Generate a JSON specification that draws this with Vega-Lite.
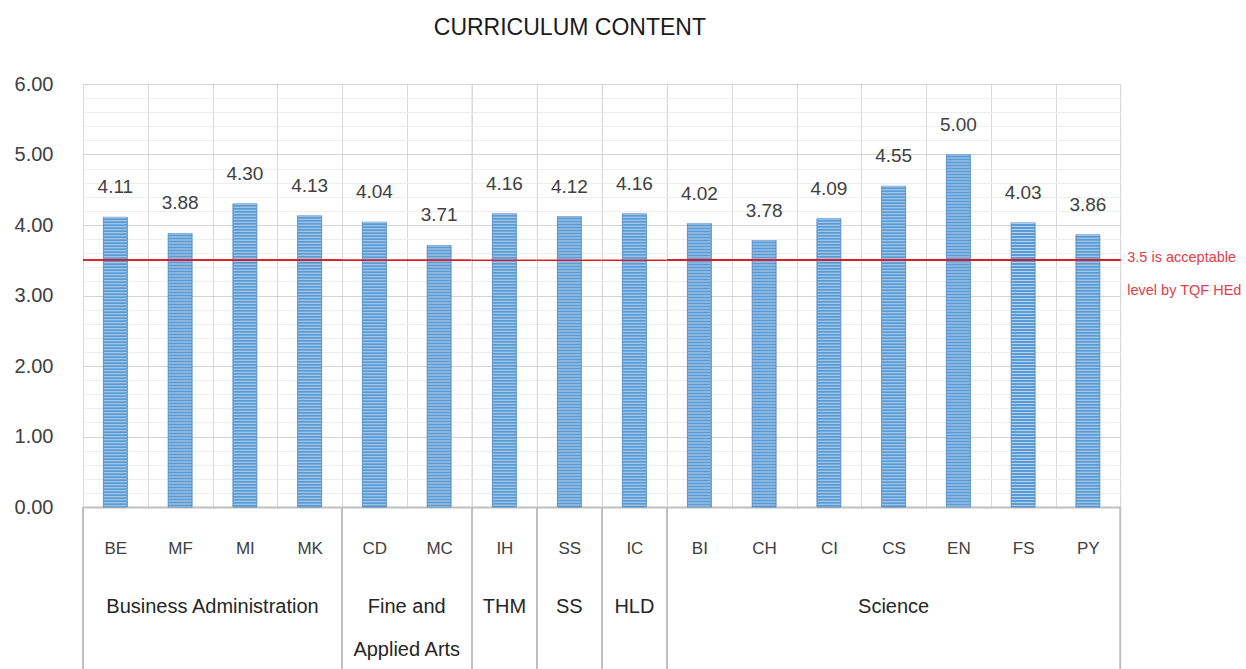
{
  "$schema": "https://vega.github.io/schema/vega-lite/v6.json",
  "padding": {"left": 13, "top": 16, "right": 5, "bottom": 0},
  "background": "white",
  "title": {"text": "CURRICULUM CONTENT", "fontSize": 23, "fontWeight": "normal", "font": "Liberation Sans", "color": "#1a1a1a", "anchor": "middle", "dx": -58, "offset": 34},
  "data": {"values": [
    {"group": "Business Administration", "code": "BE", "value": 4.11},
    {"group": "Business Administration", "code": "MF", "value": 3.88},
    {"group": "Business Administration", "code": "MI", "value": 4.30},
    {"group": "Business Administration", "code": "MK", "value": 4.13},
    {"group": "Fine and\nApplied Arts", "code": "CD", "value": 4.04},
    {"group": "Fine and\nApplied Arts", "code": "MC", "value": 3.71},
    {"group": "THM", "code": "IH", "value": 4.16},
    {"group": "SS", "code": "SS", "value": 4.12},
    {"group": "HLD", "code": "IC", "value": 4.16},
    {"group": "Science", "code": "BI", "value": 4.02},
    {"group": "Science", "code": "CH", "value": 3.78},
    {"group": "Science", "code": "CI", "value": 4.09},
    {"group": "Science", "code": "CS", "value": 4.55},
    {"group": "Science", "code": "EN", "value": 5.00},
    {"group": "Science", "code": "FS", "value": 4.03},
    {"group": "Science", "code": "PY", "value": 3.86}
  ]},
  "spacing": 0,
  "bounds": "flush",
  "hconcat": [
    {
      "width": 259, "height": 423,
      "transform": [{"filter": "datum.group === 'Business Administration'"}],
      "layer": [
        {"mark": {"type": "bar", "width": {"band": 0.37}, "color": "#5b9bd5", "stroke": "#4a86c4", "strokeWidth": 0.8},
         "encoding": {
           "x": {"field": "code", "type": "nominal", "sort": null, "scale": {"paddingInner": 0, "paddingOuter": 0},
             "axis": {"title": null, "labelAngle": 0, "ticks": false, "labelPadding": 33.5, "grid": true, "tickBand": "extent", "gridColor": "#d9d9d9", "domainColor": "#bfbfbf", "domainWidth": 2, "labelFontSize": 17}},
           "y": {"field": "value", "type": "quantitative", "scale": {"domain": [0, 6], "nice": false},
             "axis": {"title": null, "tickCount": 31, "values": [0, 0.2, 0.4, 0.6, 0.8, 1, 1.2, 1.4, 1.6, 1.8, 2, 2.2, 2.4, 2.6, 2.8, 3, 3.2, 3.4, 3.6, 3.8, 4, 4.2, 4.4, 4.6, 4.8, 5, 5.2, 5.4, 5.6, 5.8, 6],
               "labelExpr": "datum.value % 1 === 0 ? format(datum.value, '.2f') : ''", "labelOverlap": false, "domain": false, "ticks": false, "labelPadding": 30, "labelFontSize": 20,
               "gridColor": {"condition": {"test": "datum.value % 1 === 0", "value": "#d4d4d4"}, "value": "#eeeeee"}}}}},
        {"mark": {"type": "rule", "color": "white", "strokeWidth": 23, "strokeDash": [1, 2], "opacity": 0.55},
         "encoding": {"x": {"field": "code", "type": "nominal", "sort": null}, "y": {"field": "value", "type": "quantitative"}, "y2": {"datum": 0}}},
        {"mark": {"type": "text", "dy": -30, "baseline": "middle", "fontSize": 19, "color": "#404040"},
         "encoding": {"x": {"field": "code", "type": "nominal", "sort": null}, "y": {"field": "value", "type": "quantitative"}, "text": {"field": "value", "type": "quantitative", "format": ".2f"}}},
        {"mark": {"type": "rule", "color": "#d81e2c", "strokeWidth": 1.5}, "encoding": {"y": {"datum": 3.5}}},
        {"transform": [{"window": [{"op": "row_number", "as": "r"}]}, {"filter": "datum.r === 1"}],
         "mark": {"type": "rule", "color": "#bfbfbf", "strokeWidth": 2},
         "encoding": {"x": {"field": "code", "type": "nominal", "sort": null, "bandPosition": 0}, "y": {"datum": 0}, "y2": {"datum": -2.4}}},
        {"transform": [{"aggregate": [{"op": "count", "as": "n"}], "groupby": ["group"]}],
         "mark": {"type": "text", "baseline": "top", "lineBreak": "\n", "lineHeight": 43, "fontSize": 20, "color": "#262626"},
         "encoding": {"y": {"datum": -1.277}, "text": {"field": "group", "type": "nominal"}}}
      ]
    },
    {
      "width": 129.5, "height": 423,
      "transform": [{"filter": "datum.group === 'Fine and\\nApplied Arts'"}],
      "layer": [
        {"mark": {"type": "bar", "width": {"band": 0.37}, "color": "#5b9bd5", "stroke": "#4a86c4", "strokeWidth": 0.8},
         "encoding": {
           "x": {"field": "code", "type": "nominal", "sort": null, "scale": {"paddingInner": 0, "paddingOuter": 0},
             "axis": {"title": null, "labelAngle": 0, "ticks": false, "labelPadding": 33.5, "grid": true, "tickBand": "extent", "gridColor": "#d9d9d9", "domainColor": "#bfbfbf", "domainWidth": 2, "labelFontSize": 17}},
           "y": {"field": "value", "type": "quantitative", "scale": {"domain": [0, 6], "nice": false},
             "axis": {"title": null, "tickCount": 31, "values": [0, 0.2, 0.4, 0.6, 0.8, 1, 1.2, 1.4, 1.6, 1.8, 2, 2.2, 2.4, 2.6, 2.8, 3, 3.2, 3.4, 3.6, 3.8, 4, 4.2, 4.4, 4.6, 4.8, 5, 5.2, 5.4, 5.6, 5.8, 6],
               "labels": false, "domain": false, "ticks": false,
               "gridColor": {"condition": {"test": "datum.value % 1 === 0", "value": "#d4d4d4"}, "value": "#eeeeee"}}}}},
        {"mark": {"type": "rule", "color": "white", "strokeWidth": 23, "strokeDash": [1, 2], "opacity": 0.55},
         "encoding": {"x": {"field": "code", "type": "nominal", "sort": null}, "y": {"field": "value", "type": "quantitative"}, "y2": {"datum": 0}}},
        {"mark": {"type": "text", "dy": -30, "baseline": "middle", "fontSize": 19, "color": "#404040"},
         "encoding": {"x": {"field": "code", "type": "nominal", "sort": null}, "y": {"field": "value", "type": "quantitative"}, "text": {"field": "value", "type": "quantitative", "format": ".2f"}}},
        {"mark": {"type": "rule", "color": "#d81e2c", "strokeWidth": 1.5}, "encoding": {"y": {"datum": 3.5}}},
        {"transform": [{"window": [{"op": "row_number", "as": "r"}]}, {"filter": "datum.r === 1"}],
         "mark": {"type": "rule", "color": "#bfbfbf", "strokeWidth": 2},
         "encoding": {"x": {"field": "code", "type": "nominal", "sort": null, "bandPosition": 0}, "y": {"datum": 0}, "y2": {"datum": -2.4}}},
        {"transform": [{"aggregate": [{"op": "count", "as": "n"}], "groupby": ["group"]}],
         "mark": {"type": "text", "baseline": "top", "lineBreak": "\n", "lineHeight": 43, "fontSize": 20, "color": "#262626"},
         "encoding": {"y": {"datum": -1.277}, "text": {"field": "group", "type": "nominal"}}}
      ]
    },
    {
      "width": 64.75, "height": 423,
      "transform": [{"filter": "datum.group === 'THM'"}],
      "layer": [
        {"mark": {"type": "bar", "width": {"band": 0.37}, "color": "#5b9bd5", "stroke": "#4a86c4", "strokeWidth": 0.8},
         "encoding": {
           "x": {"field": "code", "type": "nominal", "sort": null, "scale": {"paddingInner": 0, "paddingOuter": 0},
             "axis": {"title": null, "labelAngle": 0, "ticks": false, "labelPadding": 33.5, "grid": true, "tickBand": "extent", "gridColor": "#d9d9d9", "domainColor": "#bfbfbf", "domainWidth": 2, "labelFontSize": 17}},
           "y": {"field": "value", "type": "quantitative", "scale": {"domain": [0, 6], "nice": false},
             "axis": {"title": null, "tickCount": 31, "values": [0, 0.2, 0.4, 0.6, 0.8, 1, 1.2, 1.4, 1.6, 1.8, 2, 2.2, 2.4, 2.6, 2.8, 3, 3.2, 3.4, 3.6, 3.8, 4, 4.2, 4.4, 4.6, 4.8, 5, 5.2, 5.4, 5.6, 5.8, 6],
               "labels": false, "domain": false, "ticks": false,
               "gridColor": {"condition": {"test": "datum.value % 1 === 0", "value": "#d4d4d4"}, "value": "#eeeeee"}}}}},
        {"mark": {"type": "rule", "color": "white", "strokeWidth": 23, "strokeDash": [1, 2], "opacity": 0.55},
         "encoding": {"x": {"field": "code", "type": "nominal", "sort": null}, "y": {"field": "value", "type": "quantitative"}, "y2": {"datum": 0}}},
        {"mark": {"type": "text", "dy": -30, "baseline": "middle", "fontSize": 19, "color": "#404040"},
         "encoding": {"x": {"field": "code", "type": "nominal", "sort": null}, "y": {"field": "value", "type": "quantitative"}, "text": {"field": "value", "type": "quantitative", "format": ".2f"}}},
        {"mark": {"type": "rule", "color": "#d81e2c", "strokeWidth": 1.5}, "encoding": {"y": {"datum": 3.5}}},
        {"transform": [{"window": [{"op": "row_number", "as": "r"}]}, {"filter": "datum.r === 1"}],
         "mark": {"type": "rule", "color": "#bfbfbf", "strokeWidth": 2},
         "encoding": {"x": {"field": "code", "type": "nominal", "sort": null, "bandPosition": 0}, "y": {"datum": 0}, "y2": {"datum": -2.4}}},
        {"transform": [{"aggregate": [{"op": "count", "as": "n"}], "groupby": ["group"]}],
         "mark": {"type": "text", "baseline": "top", "lineBreak": "\n", "lineHeight": 43, "fontSize": 20, "color": "#262626"},
         "encoding": {"y": {"datum": -1.277}, "text": {"field": "group", "type": "nominal"}}}
      ]
    },
    {
      "width": 64.75, "height": 423,
      "transform": [{"filter": "datum.group === 'SS'"}],
      "layer": [
        {"mark": {"type": "bar", "width": {"band": 0.37}, "color": "#5b9bd5", "stroke": "#4a86c4", "strokeWidth": 0.8},
         "encoding": {
           "x": {"field": "code", "type": "nominal", "sort": null, "scale": {"paddingInner": 0, "paddingOuter": 0},
             "axis": {"title": null, "labelAngle": 0, "ticks": false, "labelPadding": 33.5, "grid": true, "tickBand": "extent", "gridColor": "#d9d9d9", "domainColor": "#bfbfbf", "domainWidth": 2, "labelFontSize": 17}},
           "y": {"field": "value", "type": "quantitative", "scale": {"domain": [0, 6], "nice": false},
             "axis": {"title": null, "tickCount": 31, "values": [0, 0.2, 0.4, 0.6, 0.8, 1, 1.2, 1.4, 1.6, 1.8, 2, 2.2, 2.4, 2.6, 2.8, 3, 3.2, 3.4, 3.6, 3.8, 4, 4.2, 4.4, 4.6, 4.8, 5, 5.2, 5.4, 5.6, 5.8, 6],
               "labels": false, "domain": false, "ticks": false,
               "gridColor": {"condition": {"test": "datum.value % 1 === 0", "value": "#d4d4d4"}, "value": "#eeeeee"}}}}},
        {"mark": {"type": "rule", "color": "white", "strokeWidth": 23, "strokeDash": [1, 2], "opacity": 0.55},
         "encoding": {"x": {"field": "code", "type": "nominal", "sort": null}, "y": {"field": "value", "type": "quantitative"}, "y2": {"datum": 0}}},
        {"mark": {"type": "text", "dy": -30, "baseline": "middle", "fontSize": 19, "color": "#404040"},
         "encoding": {"x": {"field": "code", "type": "nominal", "sort": null}, "y": {"field": "value", "type": "quantitative"}, "text": {"field": "value", "type": "quantitative", "format": ".2f"}}},
        {"mark": {"type": "rule", "color": "#d81e2c", "strokeWidth": 1.5}, "encoding": {"y": {"datum": 3.5}}},
        {"transform": [{"window": [{"op": "row_number", "as": "r"}]}, {"filter": "datum.r === 1"}],
         "mark": {"type": "rule", "color": "#bfbfbf", "strokeWidth": 2},
         "encoding": {"x": {"field": "code", "type": "nominal", "sort": null, "bandPosition": 0}, "y": {"datum": 0}, "y2": {"datum": -2.4}}},
        {"transform": [{"aggregate": [{"op": "count", "as": "n"}], "groupby": ["group"]}],
         "mark": {"type": "text", "baseline": "top", "lineBreak": "\n", "lineHeight": 43, "fontSize": 20, "color": "#262626"},
         "encoding": {"y": {"datum": -1.277}, "text": {"field": "group", "type": "nominal"}}}
      ]
    },
    {
      "width": 64.75, "height": 423,
      "transform": [{"filter": "datum.group === 'HLD'"}],
      "layer": [
        {"mark": {"type": "bar", "width": {"band": 0.37}, "color": "#5b9bd5", "stroke": "#4a86c4", "strokeWidth": 0.8},
         "encoding": {
           "x": {"field": "code", "type": "nominal", "sort": null, "scale": {"paddingInner": 0, "paddingOuter": 0},
             "axis": {"title": null, "labelAngle": 0, "ticks": false, "labelPadding": 33.5, "grid": true, "tickBand": "extent", "gridColor": "#d9d9d9", "domainColor": "#bfbfbf", "domainWidth": 2, "labelFontSize": 17}},
           "y": {"field": "value", "type": "quantitative", "scale": {"domain": [0, 6], "nice": false},
             "axis": {"title": null, "tickCount": 31, "values": [0, 0.2, 0.4, 0.6, 0.8, 1, 1.2, 1.4, 1.6, 1.8, 2, 2.2, 2.4, 2.6, 2.8, 3, 3.2, 3.4, 3.6, 3.8, 4, 4.2, 4.4, 4.6, 4.8, 5, 5.2, 5.4, 5.6, 5.8, 6],
               "labels": false, "domain": false, "ticks": false,
               "gridColor": {"condition": {"test": "datum.value % 1 === 0", "value": "#d4d4d4"}, "value": "#eeeeee"}}}}},
        {"mark": {"type": "rule", "color": "white", "strokeWidth": 23, "strokeDash": [1, 2], "opacity": 0.55},
         "encoding": {"x": {"field": "code", "type": "nominal", "sort": null}, "y": {"field": "value", "type": "quantitative"}, "y2": {"datum": 0}}},
        {"mark": {"type": "text", "dy": -30, "baseline": "middle", "fontSize": 19, "color": "#404040"},
         "encoding": {"x": {"field": "code", "type": "nominal", "sort": null}, "y": {"field": "value", "type": "quantitative"}, "text": {"field": "value", "type": "quantitative", "format": ".2f"}}},
        {"mark": {"type": "rule", "color": "#d81e2c", "strokeWidth": 1.5}, "encoding": {"y": {"datum": 3.5}}},
        {"transform": [{"window": [{"op": "row_number", "as": "r"}]}, {"filter": "datum.r === 1"}],
         "mark": {"type": "rule", "color": "#bfbfbf", "strokeWidth": 2},
         "encoding": {"x": {"field": "code", "type": "nominal", "sort": null, "bandPosition": 0}, "y": {"datum": 0}, "y2": {"datum": -2.4}}},
        {"transform": [{"aggregate": [{"op": "count", "as": "n"}], "groupby": ["group"]}],
         "mark": {"type": "text", "baseline": "top", "lineBreak": "\n", "lineHeight": 43, "fontSize": 20, "color": "#262626"},
         "encoding": {"y": {"datum": -1.277}, "text": {"field": "group", "type": "nominal"}}}
      ]
    },
    {
      "width": 453.25, "height": 423,
      "transform": [{"filter": "datum.group === 'Science'"}],
      "layer": [
        {"mark": {"type": "bar", "width": {"band": 0.37}, "color": "#5b9bd5", "stroke": "#4a86c4", "strokeWidth": 0.8},
         "encoding": {
           "x": {"field": "code", "type": "nominal", "sort": null, "scale": {"paddingInner": 0, "paddingOuter": 0},
             "axis": {"title": null, "labelAngle": 0, "ticks": false, "labelPadding": 33.5, "grid": true, "tickBand": "extent", "gridColor": "#d9d9d9", "domainColor": "#bfbfbf", "domainWidth": 2, "labelFontSize": 17}},
           "y": {"field": "value", "type": "quantitative", "scale": {"domain": [0, 6], "nice": false},
             "axis": {"title": null, "tickCount": 31, "values": [0, 0.2, 0.4, 0.6, 0.8, 1, 1.2, 1.4, 1.6, 1.8, 2, 2.2, 2.4, 2.6, 2.8, 3, 3.2, 3.4, 3.6, 3.8, 4, 4.2, 4.4, 4.6, 4.8, 5, 5.2, 5.4, 5.6, 5.8, 6],
               "labels": false, "domain": false, "ticks": false,
               "gridColor": {"condition": {"test": "datum.value % 1 === 0", "value": "#d4d4d4"}, "value": "#eeeeee"}}}}},
        {"mark": {"type": "rule", "color": "white", "strokeWidth": 23, "strokeDash": [1, 2], "opacity": 0.55},
         "encoding": {"x": {"field": "code", "type": "nominal", "sort": null}, "y": {"field": "value", "type": "quantitative"}, "y2": {"datum": 0}}},
        {"mark": {"type": "text", "dy": -30, "baseline": "middle", "fontSize": 19, "color": "#404040"},
         "encoding": {"x": {"field": "code", "type": "nominal", "sort": null}, "y": {"field": "value", "type": "quantitative"}, "text": {"field": "value", "type": "quantitative", "format": ".2f"}}},
        {"mark": {"type": "rule", "color": "#d81e2c", "strokeWidth": 1.5}, "encoding": {"y": {"datum": 3.5}}},
        {"transform": [{"window": [{"op": "row_number", "as": "r"}]}, {"filter": "datum.r === 1"}],
         "mark": {"type": "rule", "color": "#bfbfbf", "strokeWidth": 2},
         "encoding": {"x": {"field": "code", "type": "nominal", "sort": null, "bandPosition": 0}, "y": {"datum": 0}, "y2": {"datum": -2.4}}},
        {"transform": [{"filter": "datum.code === 'PY'"}],
         "mark": {"type": "rule", "color": "#bfbfbf", "strokeWidth": 2},
         "encoding": {"x": {"field": "code", "type": "nominal", "sort": null, "bandPosition": 1}, "y": {"datum": 0}, "y2": {"datum": -2.4}}},
        {"transform": [{"aggregate": [{"op": "count", "as": "n"}], "groupby": ["group"]}],
         "mark": {"type": "text", "baseline": "top", "lineBreak": "\n", "lineHeight": 43, "fontSize": 20, "color": "#262626"},
         "encoding": {"y": {"datum": -1.277}, "text": {"field": "group", "type": "nominal"}}},
        {"transform": [{"filter": "datum.code === 'PY'"}],
         "mark": {"type": "text", "text": ["3.5 is acceptable", "level by TQF HEd"], "align": "left", "baseline": "top", "dx": 7, "dy": -9, "lineHeight": 33, "fontSize": 14.5, "color": "#e0404a"},
         "encoding": {"x": {"field": "code", "type": "nominal", "sort": null, "bandPosition": 1}, "y": {"datum": 3.5}}}
      ]
    }
  ],
  "config": {
    "font": "Liberation Sans",
    "view": {"stroke": "#d9d9d9"},
    "axis": {"labelFont": "Liberation Sans", "labelColor": "#404040"},
    "text": {"font": "Liberation Sans"}
  }
}
